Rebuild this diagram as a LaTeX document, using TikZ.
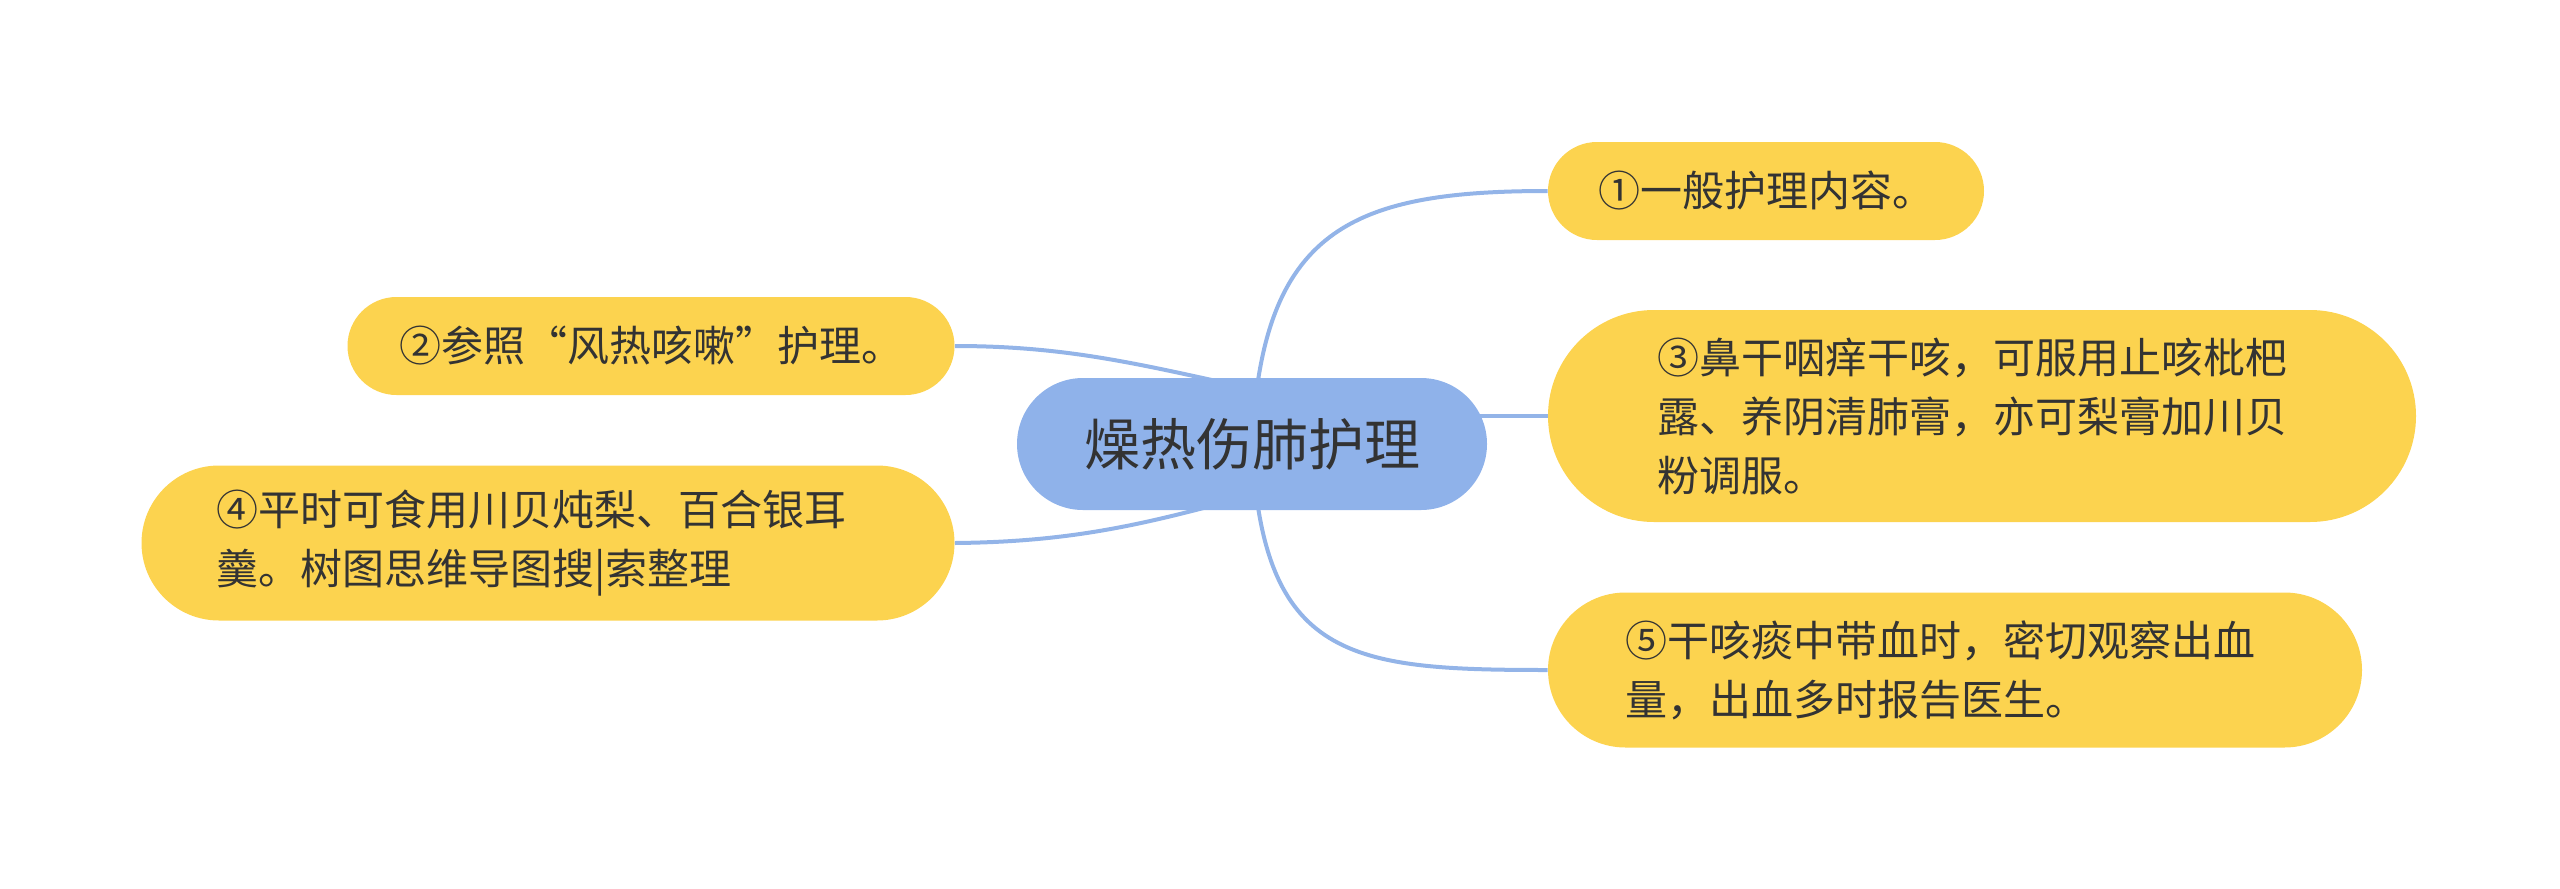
\documentclass[tikz,border=0pt]{standalone}
\usepackage{fontspec}
\setmainfont{Noto Sans CJK SC}
\usetikzlibrary{backgrounds}
\definecolor{leafyellow}{HTML}{FCD34F}
\definecolor{rootblue}{HTML}{8FB2EA}
\definecolor{linkblue}{HTML}{93B4E8}
\definecolor{txt}{HTML}{333333}
\begin{document}
\begin{tikzpicture}[x=0.5pt,y=-0.5pt,
  rootbox/.style={fill=rootblue, draw=none, text=txt, font=\fontsize{28}{34}\selectfont,
    minimum width=235pt, minimum height=66pt, rounded corners=33pt, inner sep=0pt},
  leafbox/.style={fill=leafyellow, draw=none, text=txt, font=\fontsize{21}{29.5}\selectfont,
    inner sep=0pt, align=left},
  link/.style={draw=linkblue, line width=2pt}]
\useasboundingbox (0,0) rectangle (2560,889);
\node[rootbox] (c) at (1252,444) {燥热伤肺护理};
\node[leafbox, minimum width=218pt, minimum height=49pt, rounded corners=24.5pt] (n1) at (1766,191) {①一般护理内容。};
\node[leafbox, minimum width=303.5pt, minimum height=49pt, rounded corners=24.5pt] (n2) at (651,346) {②参照“风热咳嗽”护理。};
\node[leafbox, minimum width=434pt, minimum height=106pt, rounded corners=53pt, text width=325pt] (n3) at (1982,416) {③鼻干咽痒干咳，可服用止咳枇杷\\露、养阴清肺膏，亦可梨膏加川贝\\粉调服。};
\node[leafbox, minimum width=406.5pt, minimum height=77.5pt, rounded corners=38.75pt, text width=331.5pt] (n4) at (548,543) {④平时可食用川贝炖梨、百合银耳\\羹。树图思维导图搜|索整理};
\node[leafbox, minimum width=407pt, minimum height=77.5pt, rounded corners=38.75pt, text width=330pt] (n5) at (1955,670) {⑤干咳痰中带血时，密切观察出血\\量，出血多时报告医生。};
\coordinate (k2) at (1230,384);
\coordinate (k4) at (1226,502);
\begin{scope}[on background layer]
\draw[link] (c.center) .. controls (1262,230) and (1350,191) .. (n1.west);
\draw[link] (c.center) .. controls (1262,660) and (1350,670) .. (n5.west);
\draw[link] (c.center |- n3.west) -- (n3.west);
\draw[link] (c.center) -- (k2) .. controls (1130,362) and (1060,346) .. (n2.east);
\draw[link] (c.center) -- (k4) .. controls (1130,528) and (1060,542) .. (n4.east);
\end{scope}
\end{tikzpicture}
\end{document}
